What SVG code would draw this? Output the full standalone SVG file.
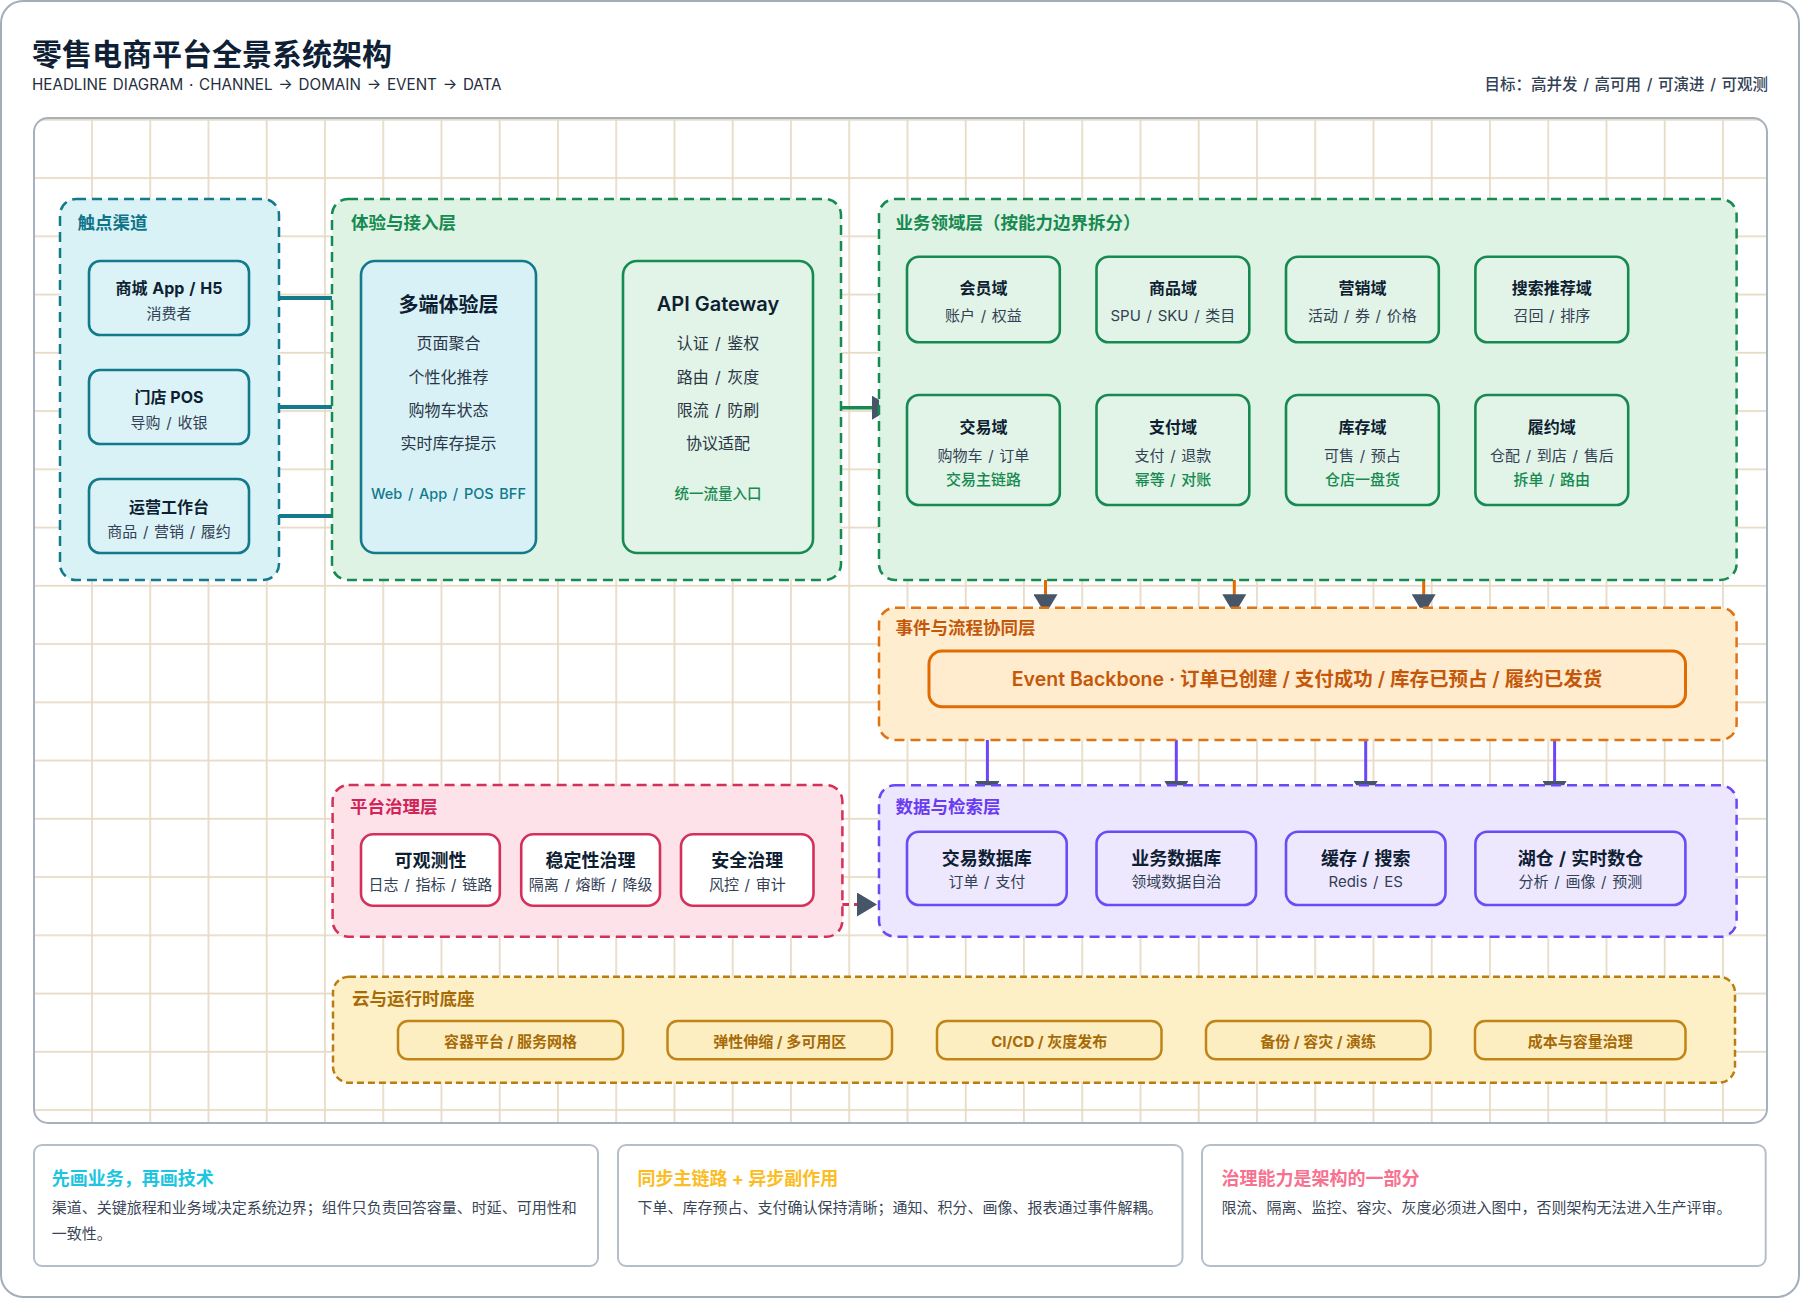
<svg xmlns="http://www.w3.org/2000/svg" width="1800" height="1298" viewBox="0 0 1800 1298">
  <defs>
    <pattern id="grid" patternUnits="userSpaceOnUse" x="32.8" y="118.9" width="58.25" height="58.25">
      <path d="M0 0.9 H58.25 M0.9 0 V58.25" stroke="#e6dac4" stroke-width="1.7" fill="none"/>
    </pattern>
    <marker id="arr" markerUnits="userSpaceOnUse" viewBox="0 0 20 24" markerWidth="20" markerHeight="24" refX="20" refY="12" orient="auto">
      <path d="M0 0 L20 12 L0 24 Z" fill="#475569"/>
    </marker>
    <style>
      text { font-family: Inter, "Noto Sans CJK SC", "Liberation Sans", sans-serif; }
      .grp { stroke-width: 2.5; stroke-dasharray: 10 6; }
      .gl { font-size: 17.5px; font-weight: 700; }
      .node { stroke-width: 2.6; }
      .ttl { font-size: 16px; font-weight: 700; fill: #0f1f33; text-anchor: middle; }
      .ttl18 { font-size: 18px; font-weight: 700; fill: #0f1f33; text-anchor: middle; word-spacing: 1px; }
      .ttl20 { font-size: 20px; font-weight: 700; fill: #0f1f33; text-anchor: middle; }
      .sub { font-size: 15px; fill: #334155; text-anchor: middle; word-spacing: 1.5px; }
      .item { font-size: 16px; fill: #2b3646; text-anchor: middle; word-spacing: 1.8px; }
      .teal { stroke: #137a8c; }
      .green { stroke: #168a50; }
      .ctitle { font-size: 18px; font-weight: 700; }
      .cbody { font-size: 15px; fill: #3a4657; }
      .pill { font-size: 15px; font-weight: 700; fill: #a66a06; text-anchor: middle; }
    </style>
  </defs>

  <!-- outer card -->
  <rect x="1" y="1" width="1798" height="1296" rx="22" fill="#ffffff" stroke="#a3aebb" stroke-width="2"/>

  <!-- header -->
  <text x="32" y="64.5" font-size="30" font-weight="700" fill="#0f1f35">零售电商平台全景系统架构</text>
  <text x="32" y="90" font-size="15.2" fill="#1f2d3d" word-spacing="1.5">HEADLINE DIAGRAM · CHANNEL → DOMAIN → EVENT → DATA</text>
  <text x="1768" y="90" font-size="15.5" font-weight="500" fill="#334155" text-anchor="end" word-spacing="1.5">目标：高并发 / 高可用 / 可演进 / 可观测</text>

  <!-- grid panel -->
  <rect x="34" y="118" width="1733" height="1005" rx="14" fill="#ffffff"/>
  <rect x="34" y="118" width="1733" height="1005" rx="14" fill="url(#grid)"/>
  <rect x="34" y="118" width="1733" height="1005" rx="14" fill="none" stroke="#a7b1bd" stroke-width="2"/>

  <!-- connectors -->
  <g id="connectors" fill="none">
    <path d="M279 298 H334" stroke="#137a8c" stroke-width="4"/>
    <path d="M279 407 H334" stroke="#137a8c" stroke-width="4"/>
    <path d="M279 516 H334" stroke="#137a8c" stroke-width="4"/>
    <path d="M841 407.7 H892" stroke="#168a50" stroke-width="3.5" marker-end="url(#arr)"/>
    <path d="M1045.5 580 V614.3" stroke="#e06a00" stroke-width="3" marker-end="url(#arr)"/>
    <path d="M1234.3 580 V614.3" stroke="#e06a00" stroke-width="3" marker-end="url(#arr)"/>
    <path d="M1423.7 580 V614.3" stroke="#e06a00" stroke-width="3" marker-end="url(#arr)"/>
    <path d="M987.4 740 V801" stroke="#6b47f5" stroke-width="3" marker-end="url(#arr)"/>
    <path d="M1176.3 740 V801" stroke="#6b47f5" stroke-width="3" marker-end="url(#arr)"/>
    <path d="M1365.7 740 V801" stroke="#6b47f5" stroke-width="3" marker-end="url(#arr)"/>
    <path d="M1554.6 740 V801" stroke="#6b47f5" stroke-width="3" marker-end="url(#arr)"/>
    <path d="M842 904.5 H877" stroke="#d3305a" stroke-width="3" stroke-dasharray="7 5" marker-end="url(#arr)"/>
  </g>

  <!-- 触点渠道 -->
  <g id="layer-channel">
    <rect class="grp" x="60" y="199" width="219" height="381" rx="16" fill="#d9f2f6" stroke="#137a8c"/>
    <text class="gl" x="77.5" y="228.5" fill="#0f7489">触点渠道</text>
    <g id="node-mall-app">
      <rect class="node teal" x="89" y="261" width="160" height="74" rx="11" fill="#dbf3f7"/>
      <text class="ttl" x="169" y="294" word-spacing="1">商城 App / H5</text>
      <text class="sub" x="169" y="318.7">消费者</text>
    </g>
    <g id="node-pos">
      <rect class="node teal" x="89" y="370" width="160" height="74" rx="11" fill="#dbf3f7"/>
      <text class="ttl" x="169" y="403.3">门店 POS</text>
      <text class="sub" x="169" y="428">导购 / 收银</text>
    </g>
    <g id="node-ops">
      <rect class="node teal" x="89" y="479" width="160" height="74" rx="11" fill="#dbf3f7"/>
      <text class="ttl" x="169" y="512.7">运营工作台</text>
      <text class="sub" x="169" y="537">商品 / 营销 / 履约</text>
    </g>
  </g>

  <!-- 体验与接入层 -->
  <g id="layer-experience">
    <rect class="grp" x="332" y="199" width="509" height="381" rx="16" fill="#dff3e5" stroke="#168a50"/>
    <text class="gl" x="351" y="228.5" fill="#168a50">体验与接入层</text>
    <g id="node-multi-end">
      <rect class="node teal" x="361" y="261" width="175" height="292" rx="14" fill="#d8f1f6"/>
      <text class="ttl20" x="448.5" y="311.6">多端体验层</text>
      <text class="item" x="448.5" y="349.4">页面聚合</text>
      <text class="item" x="448.5" y="382.8">个性化推荐</text>
      <text class="item" x="448.5" y="416">购物车状态</text>
      <text class="item" x="448.5" y="449.4">实时库存提示</text>
      <text class="item" x="448.5" y="498.5" style="fill:#0f7a8c;font-size:14.5px;font-weight:500">Web / App / POS BFF</text>
    </g>
    <g id="node-gateway">
      <rect class="node green" x="623" y="261" width="190" height="292" rx="14" fill="#e2f4e7"/>
      <text class="ttl20" x="718" y="311" style="font-weight:600">API Gateway</text>
      <text class="item" x="718" y="349.4">认证 / 鉴权</text>
      <text class="item" x="718" y="382.8">路由 / 灰度</text>
      <text class="item" x="718" y="416">限流 / 防刷</text>
      <text class="item" x="718" y="449.4">协议适配</text>
      <text class="item" x="718" y="498.5" style="fill:#168a50;font-size:14.5px;font-weight:500">统一流量入口</text>
    </g>
  </g>

  <!-- 业务领域层 -->
  <g id="layer-domain">
    <rect class="grp" x="879" y="199" width="857.6" height="381" rx="16" fill="#dff3e5" stroke="#168a50"/>
    <text class="gl" x="895.6" y="228.5" fill="#168a50">业务领域层（按能力边界拆分）</text>
    <g id="node-member">
      <rect class="node green" x="907" y="256.7" width="152.8" height="85.6" rx="12" fill="#e2f4e7"/>
      <text class="ttl" x="983.4" y="294.4">会员域</text>
      <text class="sub" x="983.4" y="320.7">账户 / 权益</text>
    </g>
    <g id="node-product">
      <rect class="node green" x="1096.5" y="256.7" width="152.8" height="85.6" rx="12" fill="#e2f4e7"/>
      <text class="ttl" x="1172.9" y="294.4">商品域</text>
      <text class="sub" x="1172.9" y="320.7">SPU / SKU / 类目</text>
    </g>
    <g id="node-marketing">
      <rect class="node green" x="1286" y="256.7" width="152.8" height="85.6" rx="12" fill="#e2f4e7"/>
      <text class="ttl" x="1362.4" y="294.4">营销域</text>
      <text class="sub" x="1362.4" y="320.7">活动 / 券 / 价格</text>
    </g>
    <g id="node-search">
      <rect class="node green" x="1475.4" y="256.7" width="152.8" height="85.6" rx="12" fill="#e2f4e7"/>
      <text class="ttl" x="1551.8" y="294.4">搜索推荐域</text>
      <text class="sub" x="1551.8" y="320.7">召回 / 排序</text>
    </g>
    <g id="node-trade">
      <rect class="node green" x="907" y="395" width="152.8" height="110" rx="12" fill="#e2f4e7"/>
      <text class="ttl" x="983.4" y="433.4">交易域</text>
      <text class="sub" x="983.4" y="461.4">购物车 / 订单</text>
      <text class="sub" x="983.4" y="484.7" style="fill:#168a50;font-weight:500">交易主链路</text>
    </g>
    <g id="node-payment">
      <rect class="node green" x="1096.5" y="395" width="152.8" height="110" rx="12" fill="#e2f4e7"/>
      <text class="ttl" x="1172.9" y="433.4">支付域</text>
      <text class="sub" x="1172.9" y="461.4">支付 / 退款</text>
      <text class="sub" x="1172.9" y="484.7" style="fill:#168a50;font-weight:500">幂等 / 对账</text>
    </g>
    <g id="node-inventory">
      <rect class="node green" x="1286" y="395" width="152.8" height="110" rx="12" fill="#e2f4e7"/>
      <text class="ttl" x="1362.4" y="433.4">库存域</text>
      <text class="sub" x="1362.4" y="461.4">可售 / 预占</text>
      <text class="sub" x="1362.4" y="484.7" style="fill:#168a50;font-weight:500">仓店一盘货</text>
    </g>
    <g id="node-fulfillment">
      <rect class="node green" x="1475.4" y="395" width="152.8" height="110" rx="12" fill="#e2f4e7"/>
      <text class="ttl" x="1551.8" y="433.4">履约域</text>
      <text class="sub" x="1551.8" y="461.4">仓配 / 到店 / 售后</text>
      <text class="sub" x="1551.8" y="484.7" style="fill:#168a50;font-weight:500">拆单 / 路由</text>
    </g>
  </g>

  <!-- 事件与流程协同层 -->
  <g id="layer-event">
    <rect class="grp" x="879" y="607.7" width="857.6" height="132.3" rx="16" fill="#ffedd0" stroke="#e07414"/>
    <text class="gl" x="895.6" y="634.3" fill="#c4580a">事件与流程协同层</text>
    <g id="node-event-backbone">
      <rect x="929" y="651" width="756.5" height="55.7" rx="13" fill="#ffecce" stroke="#e06b00" stroke-width="3"/>
      <text x="1307" y="686" font-size="19.5" font-weight="600" fill="#c4580a" text-anchor="middle">Event Backbone · 订单已创建 / 支付成功 / 库存已预占 / 履约已发货</text>
    </g>
  </g>

  <!-- 平台治理层 -->
  <g id="layer-governance">
    <rect class="grp" x="332.6" y="785" width="509.8" height="151.7" rx="16" fill="#fde3e9" stroke="#d3305a"/>
    <text class="gl" x="350" y="813.3" fill="#d0245a">平台治理层</text>
    <g id="node-observability">
      <rect class="node" x="361" y="834.3" width="138.8" height="71.4" rx="12" fill="#ffffff" stroke="#d3305a"/>
      <text class="ttl18" x="430.4" y="866.8">可观测性</text>
      <text class="sub" x="430.4" y="890">日志 / 指标 / 链路</text>
    </g>
    <g id="node-stability">
      <rect class="node" x="521.2" y="834.3" width="138.8" height="71.4" rx="12" fill="#ffffff" stroke="#d3305a"/>
      <text class="ttl18" x="590.6" y="866.8">稳定性治理</text>
      <text class="sub" x="590.6" y="890">隔离 / 熔断 / 降级</text>
    </g>
    <g id="node-security">
      <rect class="node" x="681" y="834.3" width="132.5" height="71.4" rx="12" fill="#ffffff" stroke="#d3305a"/>
      <text class="ttl18" x="747.3" y="866.8">安全治理</text>
      <text class="sub" x="747.3" y="890">风控 / 审计</text>
    </g>
  </g>

  <!-- 数据与检索层 -->
  <g id="layer-data">
    <rect class="grp" x="879" y="785.3" width="857.6" height="151.4" rx="16" fill="#ece6ff" stroke="#6b47f5"/>
    <text class="gl" x="895.6" y="812.6" fill="#6a3cf0">数据与检索层</text>
    <g id="node-trade-db">
      <rect class="node" x="907" y="831.7" width="159.7" height="73.3" rx="12" fill="#eee8ff" stroke="#6a4cf5"/>
      <text class="ttl18" x="986.8" y="864.5">交易数据库</text>
      <text class="sub" x="986.8" y="887.4">订单 / 支付</text>
    </g>
    <g id="node-biz-db">
      <rect class="node" x="1096.5" y="831.7" width="159.5" height="73.3" rx="12" fill="#eee8ff" stroke="#6a4cf5"/>
      <text class="ttl18" x="1176.2" y="864.5">业务数据库</text>
      <text class="sub" x="1176.2" y="887.4">领域数据自治</text>
    </g>
    <g id="node-cache">
      <rect class="node" x="1286" y="831.7" width="159.5" height="73.3" rx="12" fill="#eee8ff" stroke="#6a4cf5"/>
      <text class="ttl18" x="1365.7" y="864.5">缓存 / 搜索</text>
      <text class="sub" x="1365.7" y="887.4">Redis / ES</text>
    </g>
    <g id="node-lakehouse">
      <rect class="node" x="1475.4" y="831.7" width="210" height="73.3" rx="12" fill="#eee8ff" stroke="#6a4cf5"/>
      <text class="ttl18" x="1580.4" y="864.5">湖仓 / 实时数仓</text>
      <text class="sub" x="1580.4" y="887.4">分析 / 画像 / 预测</text>
    </g>
  </g>

  <!-- 云与运行时底座 -->
  <g id="layer-cloud">
    <rect x="333" y="976.7" width="1402" height="106" rx="16" fill="#fef0c6" stroke="#b97d12" stroke-width="2.5" stroke-dasharray="7 4"/>
    <text class="gl" x="352" y="1004.6" fill="#a66a06">云与运行时底座</text>
    <g id="node-container">
      <rect x="398" y="1021" width="225" height="38.3" rx="10" fill="#fdeec2" stroke="#c08516" stroke-width="2.5"/>
      <text class="pill" x="510.5" y="1046.6">容器平台 / 服务网格</text>
    </g>
    <g id="node-elastic">
      <rect x="667.5" y="1021" width="224.5" height="38.3" rx="10" fill="#fdeec2" stroke="#c08516" stroke-width="2.5"/>
      <text class="pill" x="779.7" y="1046.6">弹性伸缩 / 多可用区</text>
    </g>
    <g id="node-cicd">
      <rect x="937" y="1021" width="224.5" height="38.3" rx="10" fill="#fdeec2" stroke="#c08516" stroke-width="2.5"/>
      <text class="pill" x="1049.2" y="1046.6">CI/CD / 灰度发布</text>
    </g>
    <g id="node-backup">
      <rect x="1206" y="1021" width="224.5" height="38.3" rx="10" fill="#fdeec2" stroke="#c08516" stroke-width="2.5"/>
      <text class="pill" x="1318.2" y="1046.6">备份 / 容灾 / 演练</text>
    </g>
    <g id="node-cost">
      <rect x="1475" y="1021" width="210.5" height="38.3" rx="10" fill="#fdeec2" stroke="#c08516" stroke-width="2.5"/>
      <text class="pill" x="1580.2" y="1046.6">成本与容量治理</text>
    </g>
  </g>

  <!-- bottom notes -->
  <g id="note-business-first">
    <rect x="34" y="1145" width="564" height="121" rx="8" fill="#ffffff" stroke="#b5bfca" stroke-width="2"/>
    <text class="ctitle" x="51.7" y="1185" fill="#1ec5df">先画业务，再画技术</text>
    <text class="cbody" x="51.7" y="1212.5">渠道、关键旅程和业务域决定系统边界；组件只负责回答容量、时延、可用性和</text>
    <text class="cbody" x="51.7" y="1238.5">一致性。</text>
  </g>
  <g id="note-sync-async">
    <rect x="618" y="1145" width="564.5" height="121" rx="8" fill="#ffffff" stroke="#b5bfca" stroke-width="2"/>
    <text class="ctitle" x="637.5" y="1185" fill="#fbbd23">同步主链路 + 异步副作用</text>
    <text class="cbody" x="637.5" y="1212.5">下单、库存预占、支付确认保持清晰；通知、积分、画像、报表通过事件解耦。</text>
  </g>
  <g id="note-governance">
    <rect x="1202" y="1145" width="563.7" height="121" rx="8" fill="#ffffff" stroke="#b5bfca" stroke-width="2"/>
    <text class="ctitle" x="1221.6" y="1185" fill="#f77190">治理能力是架构的一部分</text>
    <text class="cbody" x="1221.6" y="1212.5">限流、隔离、监控、容灾、灰度必须进入图中，否则架构无法进入生产评审。</text>
  </g>
</svg>
